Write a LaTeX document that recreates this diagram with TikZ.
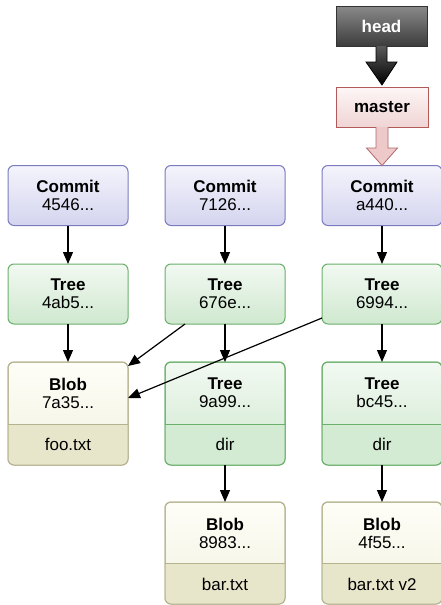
\documentclass[tikz,border=0pt]{standalone}
\usepackage{fontspec}
\setmainfont{Liberation Sans}
\usetikzlibrary{arrows.meta,calc}
\definecolor{cmBorder}{HTML}{7B7BBF}
\definecolor{cmTop}{HTML}{F4F4FC}
\definecolor{cmBot}{HTML}{D4D4EF}
\definecolor{trBorder}{HTML}{6AAF6A}
\definecolor{trTop}{HTML}{F2F9F2}
\definecolor{trBot}{HTML}{CFE8CF}
\definecolor{trLow}{HTML}{D3EAD3}
\definecolor{blBorder}{HTML}{B5B28E}
\definecolor{blTop}{HTML}{FEFEF8}
\definecolor{blBot}{HTML}{F2F1E0}
\definecolor{blLow}{HTML}{E8E6CA}
\definecolor{hdTop}{HTML}{8A8A8A}
\definecolor{hdBot}{HTML}{3C3C3C}
\definecolor{msBorder}{HTML}{B25A5A}
\definecolor{msTop}{HTML}{FDF6F6}
\definecolor{msBot}{HTML}{F0D4D4}
\definecolor{maFill}{HTML}{EEC9C9}
\definecolor{maBorder}{HTML}{B06868}
\tikzset{
  box/.style={rounded corners=6pt, minimum width=120pt, inner sep=0pt, outer sep=0pt,
    line width=1pt, font=\fontsize{17}{18}\selectfont, align=center},
  commitbox/.style={box, draw=cmBorder, top color=cmTop, bottom color=cmBot, minimum height=60pt},
  treebox/.style={box, draw=trBorder, top color=trTop, bottom color=trBot, minimum height=60pt},
  treesplit/.style={box, draw=trBorder, top color=trTop, bottom color=trBot},
  blobsplit/.style={box, draw=blBorder, top color=blTop, bottom color=blBot},
  txt/.style={inner sep=0pt, font=\fontsize{17}{18}\selectfont, align=center},
  link/.style={line width=1.2pt, -{Triangle[length=12pt,width=10pt]}},
}
\newcommand{\mylowerpart}[3]{%
  \begin{scope}
    \clip[rounded corners=6pt] (#1.north west) rectangle (#1.south east);
    \fill[#2] ($(#1.south west)+(0,-41)$) rectangle (#1.south east);
  \end{scope}
  \draw[#3, line width=1pt] ($(#1.south west)+(0,-41)$) -- ($(#1.south east)+(0,-41)$);
  \draw[#3, line width=1pt, rounded corners=6pt] (#1.north west) rectangle (#1.south east);
}
\begin{document}
\begin{tikzpicture}[x=1pt,y=-1pt]
\useasboundingbox (0,0) rectangle (441,605);
% head and master
\node[box, minimum width=91pt, minimum height=40pt, rounded corners=0pt, draw=black!80,
  top color=hdTop, bottom color=hdBot, text=white] (head) at (381.5,26) {\textbf{head}};
\node[box, minimum width=92pt, minimum height=40pt, rounded corners=0pt, draw=msBorder,
  top color=msTop, bottom color=msBot] (master) at (382,107) {\textbf{master}};
% commits
\node[commitbox] (c1) at (68,195.5) {\textbf{Commit}\\4546...};
\node[commitbox] (c2) at (225,195.5) {\textbf{Commit}\\7126...};
\node[commitbox] (c3) at (382,195.5) {\textbf{Commit}\\a440...};
% trees
\node[treebox] (t1) at (68,294) {\textbf{Tree}\\4ab5...};
\node[treebox] (t2) at (225,294) {\textbf{Tree}\\676e...};
\node[treebox] (t3) at (382,294) {\textbf{Tree}\\6994...};
% third row
\node[blobsplit, minimum height=103pt] (b1) at (68,413.5) {};
\mylowerpart{b1}{blLow}{blBorder}
\node[treesplit, minimum height=103pt] (u2) at (225,413.5) {};
\mylowerpart{u2}{trLow}{trBorder}
\node[treesplit, minimum height=103pt] (u3) at (382,413.5) {};
\mylowerpart{u3}{trLow}{trBorder}
\node[txt] (b1h) at (68,393) {\textbf{Blob}\\7a35...};
\node[txt] (b1n) at (68,444) {foo.txt};
\node[txt] (u2h) at (225,393) {\textbf{Tree}\\9a99...};
\node[txt] (u2n) at (225,444) {dir};
\node[txt] (u3h) at (382,393) {\textbf{Tree}\\bc45...};
\node[txt] (u3n) at (382,444) {dir};
% fourth row
\node[blobsplit, minimum height=102pt] (b2) at (225,553) {};
\mylowerpart{b2}{blLow}{blBorder}
\node[blobsplit, minimum height=102pt] (b3) at (382,553) {};
\mylowerpart{b3}{blLow}{blBorder}
\node[txt] (b2h) at (225,533) {\textbf{Blob}\\8983...};
\node[txt] (b2n) at (225,584) {bar.txt};
\node[txt] (b3h) at (382,533) {\textbf{Blob}\\4f55...};
\node[txt] (b3n) at (382,584) {bar.txt v2};
% block arrows
\path[draw=black, line width=0.8pt, top color=black!65, bottom color=black]
  ($(head.south)+(-5.5,0)$) -- ++(0,16) -- ++(-10,0) -- ($(master.north)+(0,-2)$)
  -- ($(head.south)+(15.5,16)$) -- ++(-10,0) -- ($(head.south)+(5.5,0)$);
\path[draw=maBorder, line width=0.8pt, fill=maFill]
  ($(master.south)+(-6,0)$) -- ++(0,21) -- ++(-9.5,0) -- (c3.north)
  -- ($(master.south)+(15.5,21)$) -- ++(-9.5,0) -- ($(master.south)+(6,0)$);
% links
\draw[link] (c1) -- (t1);
\draw[link] (c2) -- (t2);
\draw[link] (c3) -- (t3);
\draw[link] (t1) -- (b1);
\draw[link] (t2) -- (u2);
\draw[link] (t3) -- (u3);
\draw[link] (u2) -- (b2);
\draw[link] (u3) -- (b3);
\draw[link] ([xshift=20pt]t2.south west) -- ([yshift=-4pt]b1.north east);
\draw[link] ([yshift=6pt]t3.south west) -- ([yshift=-36pt]b1.north east);
\end{tikzpicture}
\end{document}
